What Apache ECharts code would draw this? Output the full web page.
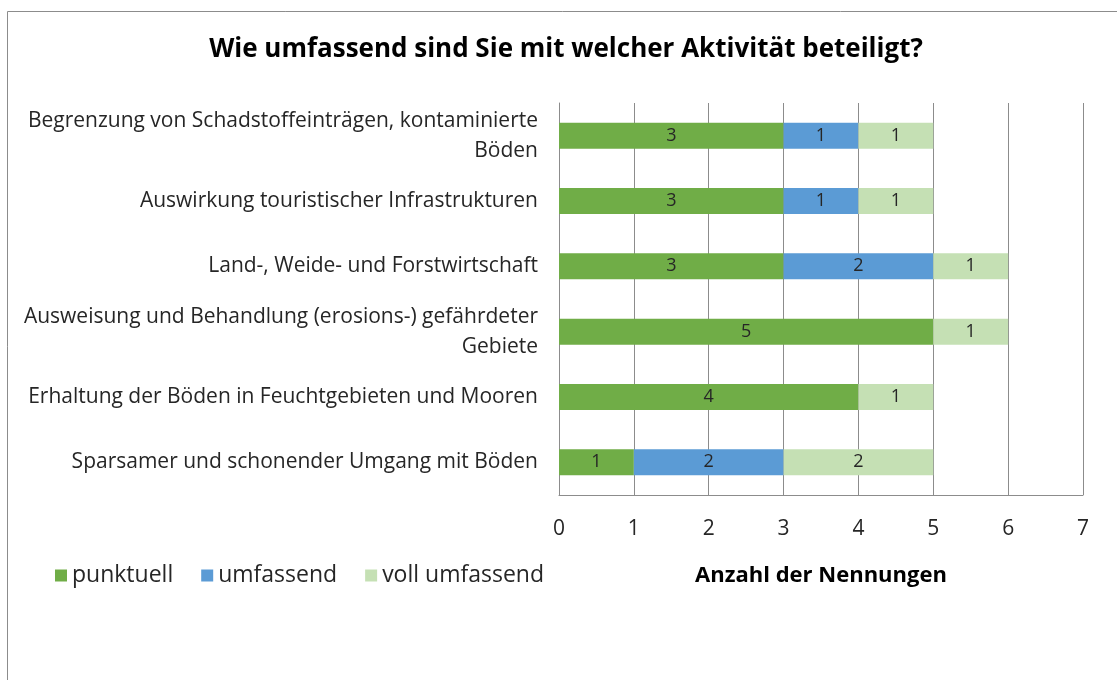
<!DOCTYPE html>
<html>
<head>
<meta charset="utf-8">
<script src="https://cdn.jsdelivr.net/npm/echarts@6/dist/echarts.min.js"></script>
<style>
    html, body { margin: 0; padding: 0; background: #fff; }
    #main { width: 1117px; height: 680px; }
</style>
</head>
<body>
<div id="main"></div>
<script>
// Kategorien (von oben nach unten)
var categories = [
    'Begrenzung von Schadstoffeinträgen, kontaminierte\nBöden',
    'Auswirkung touristischer Infrastrukturen',
    'Land-, Weide- und Forstwirtschaft',
    'Ausweisung und Behandlung (erosions-) gefährdeter\nGebiete',
    'Erhaltung der Böden in Feuchtgebieten und Mooren',
    'Sparsamer und schonender Umgang mit Böden'
];
var punktuell = [3, 3, 3, 5, 4, 1];
var umfassend = [1, 1, 2, null, null, 2];
var vollUmfassend = [1, 1, 1, 1, 1, 2];
var xTicks = [0, 1, 2, 3, 4, 5, 6, 7];

var font = 'Open Sans';
var myChart = echarts.init(document.getElementById('main'));

function barSeries(name, data, color) {
    return {
        name: name,
        type: 'bar',
        stack: 'gesamt',
        barWidth: 26,
        itemStyle: { color: color },
        label: {
            show: true,
            position: 'inside',
            color: '#262626',
            fontFamily: font,
            fontSize: 18
        },
        data: data
    };
}

var option = {
    animation: false,
    textStyle: { fontFamily: font },
    title: {
        text: 'Wie umfassend sind Sie mit welcher Aktivität beteiligt?',
        left: 561,
        textAlign: 'center',
        top: 32,
        textStyle: { fontFamily: font, fontSize: 26, fontWeight: 'bold', color: '#000' }
    },
    graphic: [{
        type: 'rect',
        shape: { x: 7.5, y: 11.5, width: 1200, height: 800 },
        style: { fill: 'none', stroke: '#8c8c8c', lineWidth: 1 },
        silent: true
    }],
    legend: {
        left: 50,
        top: 559,
        itemWidth: 12,
        itemHeight: 12,
        itemGap: 28,
        icon: 'rect',
        textStyle: { fontFamily: font, fontSize: 23, color: '#262626' },
        data: ['punktuell', 'umfassend', 'voll umfassend']
    },
    grid: {
        left: 559,
        right: 34,
        top: 103,
        bottom: 185
    },
    xAxis: {
        type: 'value',
        min: 0,
        max: 7,
        interval: 1,
        name: 'Anzahl der Nennungen',
        nameLocation: 'middle',
        nameGap: 70,
        nameTextStyle: { fontFamily: font, fontSize: 22, fontWeight: 'bold', color: '#000' },
        axisLine: { show: true, lineStyle: { color: '#8c8c8c' } },
        axisTick: { show: false },
        axisLabel: {
            margin: 24,
            fontSize: 21,
            color: '#262626',
            formatter: function (v) { return xTicks.indexOf(v) >= 0 ? String(v) : ''; }
        },
        splitLine: { show: true, lineStyle: { color: '#8c8c8c' } }
    },
    yAxis: {
        type: 'category',
        inverse: true,
        data: categories,
        axisLine: { show: true, lineStyle: { color: '#8c8c8c' } },
        axisTick: { show: false },
        axisLabel: {
            margin: 21,
            fontSize: 21,
            lineHeight: 30,
            color: '#262626',
            align: 'right'
        }
    },
    series: [
        barSeries('punktuell', punktuell, '#70ad47'),
        barSeries('umfassend', umfassend, '#5b9bd5'),
        barSeries('voll umfassend', vollUmfassend, '#c5e0b4')
    ]
};

myChart.setOption(option);
</script>
</body>
</html>
